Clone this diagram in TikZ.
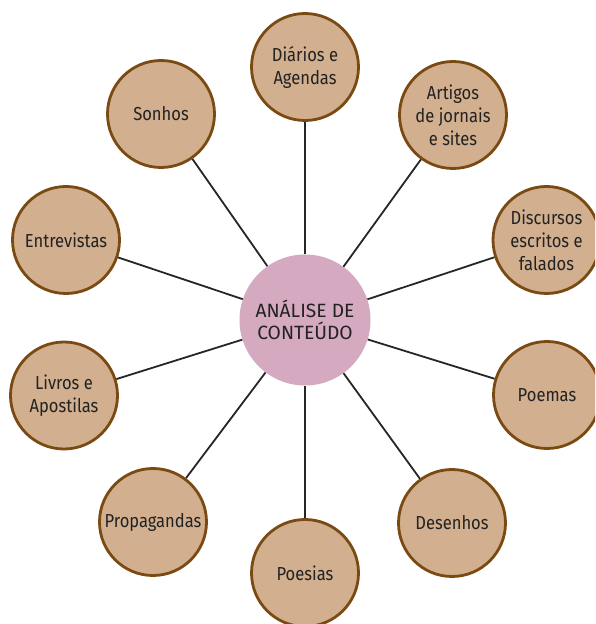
\documentclass[tikz,border=0pt]{standalone}
\usepackage{fontspec}
\setmainfont{Fira Sans}[FakeStretch=0.88]
\newfontfamily\hubfont{Fira Sans}
\definecolor{tanfill}{HTML}{D1AF8F}
\definecolor{brownline}{HTML}{7B4A12}
\definecolor{pinkfill}{HTML}{D5A9BF}
\definecolor{txt}{HTML}{222222}
\tikzset{
  leaf/.style={circle, draw=brownline, line width=2.8pt, fill=tanfill, minimum size=107pt, inner sep=0pt, align=center, text=txt, font=\fontsize{18.8}{23}\selectfont},
  hub/.style={circle, fill=pinkfill, minimum size=131pt, inner sep=0pt, align=center, text=txt, font=\hubfont\fontsize{19.2}{21.5}\selectfont},
  link/.style={line width=1.8pt, draw=black!85}
}
\begin{document}
\begin{tikzpicture}[x=1pt,y=1pt]
\useasboundingbox (0,0) rectangle (595,624);
\clip (0,0) rectangle (595,624);
\node[hub] (c) at (305,304) {ANÁLISE DE\\CONTEÚDO};
\node[leaf] (diar) at (305,557) {Diários e\\Agendas};
\node[leaf] (art) at (453,509) {Artigos\\de jornais\\e sites};
\node[leaf] (disc) at (546.5,384) {Discursos\\escritos e\\falados};
\node[leaf] (poem) at (547,229) {Poemas};
\node[leaf] (des) at (452,101) {Desenhos};
\node[leaf] (poes) at (305,51) {Poesias};
\node[leaf] (prop) at (153,102) {Propagandas};
\node[leaf] (livr) at (64,228.5) {Livros e\\Apostilas};
\node[leaf] (entr) at (66,384) {Entrevistas};
\node[leaf] (sonh) at (161,510) {Sonhos};
\foreach \n in {diar,art,disc,poem,des,poes,prop,livr,entr,sonh}
  \draw[link] (c) -- (\n);
\end{tikzpicture}
\end{document}
